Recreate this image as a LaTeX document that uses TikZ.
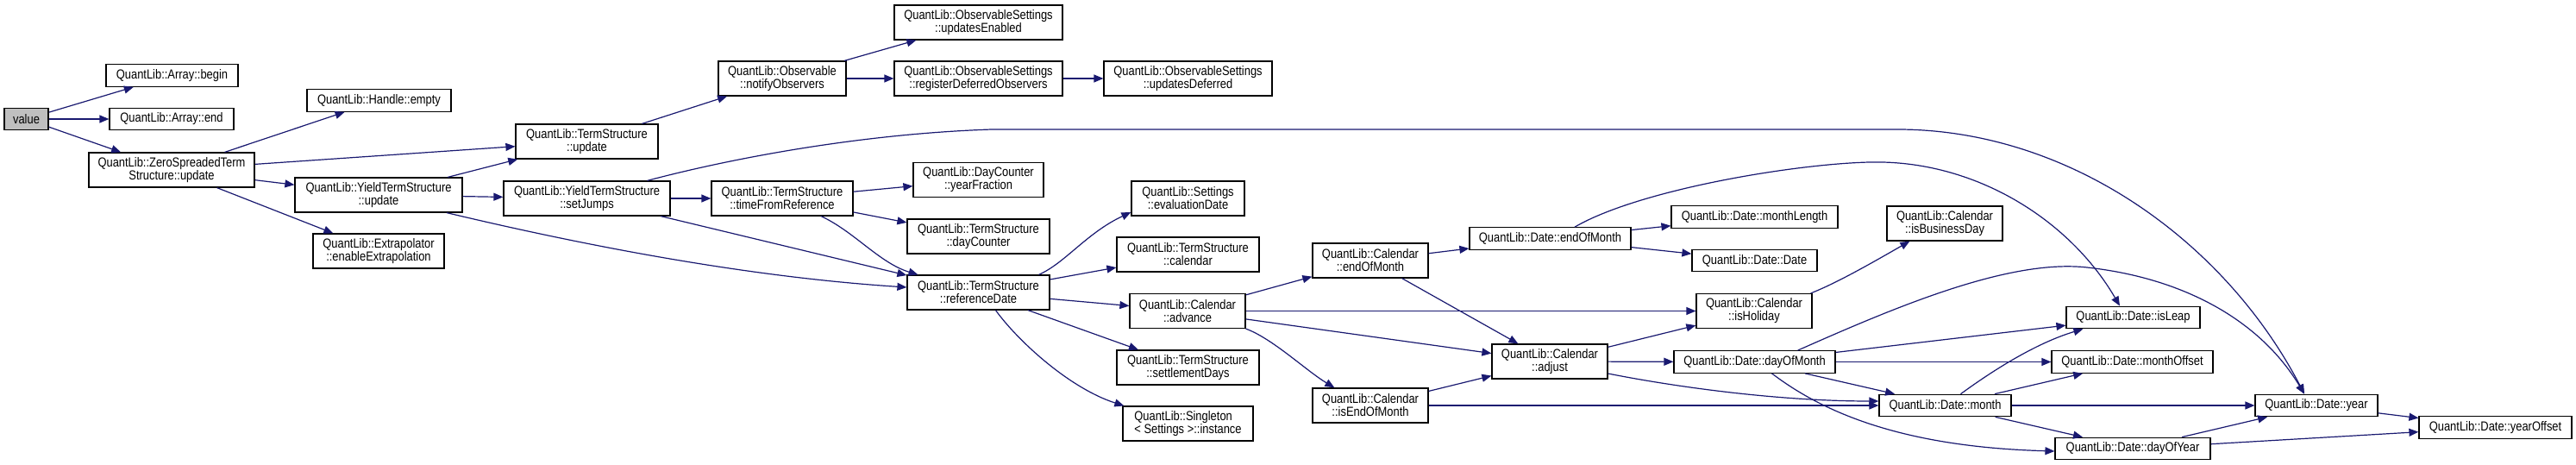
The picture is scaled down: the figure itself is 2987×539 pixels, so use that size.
\documentclass[tikz,border=0pt]{standalone}
\usepackage{fontspec}
\setmainfont{Liberation Sans}[FakeStretch=0.85]
\usepackage{tikz}
\usetikzlibrary{positioning,arrows.meta,calc}
\usepackage{xcolor}
\definecolor{edgeblue}{HTML}{191970}
\definecolor{rootgray}{HTML}{BFBFBF}

\begin{document}
\begin{tikzpicture}[x=0.5pt, y=-0.5pt, >={Triangle[length=5.5pt, width=4.5pt]},
    fn/.style={draw=black, line width=0.6pt, inner sep=0pt, align=center,
      font=\fontsize{7.6}{7.5}\selectfont},
    fn1/.style={fn, minimum height=12.75pt},
    fn2/.style={fn, minimum height=20pt},
    call/.style={->, edgeblue, line width=0.6pt}]
    \useasboundingbox (0,0) rectangle (2987,539);

    % Caller and its direct callees
    \node[fn1, fill=rootgray, minimum width=25.5pt] (value) at (30.5,138) {value};
    \node[fn1, minimum width=76.5pt] (abegin) at (199.5,87.5) {QuantLib::Array::begin};
    \node[fn1, minimum width=72pt] (aend) at (199,138) {QuantLib::Array::end};
    \node[fn2, minimum width=96pt] (zsupd) at (199,197) {QuantLib::ZeroSpreadedTerm\\Structure::update};

    % Update chain
    \node[fn1, minimum width=83.5pt] (hempty) at (439.5,116.5) {QuantLib::Handle::empty};
    \node[fn2, minimum width=97pt] (ytsupd) at (439,226) {QuantLib::YieldTermStructure\\::update};
    \node[fn2, minimum width=76pt] (extrap) at (439,291) {QuantLib::Extrapolator\\::enableExtrapolation};
    \node[fn2, minimum width=82.5pt] (tsupd) at (680.5,164) {QuantLib::TermStructure\\::update};
    \node[fn2, minimum width=96.5pt] (setjumps) at (680.5,230) {QuantLib::YieldTermStructure\\::setJumps};
    \node[fn2, minimum width=74pt] (notify) at (907,91) {QuantLib::Observable\\::notifyObservers};
    \node[fn2, minimum width=82pt] (tfr) at (907,230) {QuantLib::TermStructure\\::timeFromReference};
    \node[fn2, minimum width=97.5pt] (upden) at (1134.5,26) {QuantLib::ObservableSettings\\::updatesEnabled};
    \node[fn2, minimum width=97.5pt] (regdef) at (1134.5,91) {QuantLib::ObservableSettings\\::registerDeferredObservers};
    \node[fn2, minimum width=97.5pt] (upddef) at (1377.5,91) {QuantLib::ObservableSettings\\::updatesDeferred};
    \node[fn2, minimum width=75.5pt] (yearfrac) at (1134.5,208.5) {QuantLib::DayCounter\\::yearFraction};
    \node[fn2, minimum width=82.5pt] (daycount) at (1134.5,274) {QuantLib::TermStructure\\::dayCounter};
    \node[fn2, minimum width=82.5pt] (refdate) at (1134.5,339) {QuantLib::TermStructure\\::referenceDate};

    % Reference date and calendar
    \node[fn2, minimum width=65.5pt] (evaldate) at (1377.5,230) {QuantLib::Settings\\::evaluationDate};
    \node[fn2, minimum width=82.5pt] (tscal) at (1377.5,295) {QuantLib::TermStructure\\::calendar};
    \node[fn2, minimum width=67pt] (advance) at (1377,360.5) {QuantLib::Calendar\\::advance};
    \node[fn2, minimum width=82.5pt] (settle) at (1377.5,426) {QuantLib::TermStructure\\::settlementDays};
    \node[fn2, minimum width=75.5pt, align=left] (single) at (1377.5,491) {QuantLib::Singleton\\< Settings >::instance};
    \node[fn2, minimum width=67pt] (caleom) at (1589,302) {QuantLib::Calendar\\::endOfMonth};
    \node[fn2, minimum width=67pt] (caliseom) at (1589,470) {QuantLib::Calendar\\::isEndOfMonth};
    \node[fn1, minimum width=93.5pt] (deom) at (1797.5,276.5) {QuantLib::Date::endOfMonth};
    \node[fn2, minimum width=67pt] (adjust) at (1797,419) {QuantLib::Calendar\\::adjust};
    \node[fn1, minimum width=96.5pt] (mlen) at (2034.5,251.5) {QuantLib::Date::monthLength};
    \node[fn1, minimum width=72.5pt] (ddate) at (2034.5,302) {QuantLib::Date::Date};
    \node[fn2, minimum width=67pt] (isholiday) at (2034,360.5) {QuantLib::Calendar\\::isHoliday};
    \node[fn1, minimum width=93.5pt] (dom) at (2034.5,419.5) {QuantLib::Date::dayOfMonth};
    \node[fn2, minimum width=67pt] (isbday) at (2255,259) {QuantLib::Calendar\\::isBusinessDay};

    % Date helpers
    \node[fn1, minimum width=76.5pt] (month) at (2255.5,470) {QuantLib::Date::month};
    \node[fn1, minimum width=77.5pt] (isleap) at (2473.5,368) {QuantLib::Date::isLeap};
    \node[fn1, minimum width=93.5pt] (moff) at (2472.5,419.5) {QuantLib::Date::monthOffset};
    \node[fn1, minimum width=90pt] (doy) at (2473,520) {QuantLib::Date::dayOfYear};
    \node[fn1, minimum width=71pt] (year) at (2686,470) {QuantLib::Date::year};
    \node[fn1, minimum width=88.5pt] (yoff) at (2893.5,495.5) {QuantLib::Date::yearOffset};

    % Calls out of value and the update functions
    \draw[call] (value) -- (abegin);
    \draw[call] (value) -- (aend);
    \draw[call] (value) -- (zsupd);
    \draw[call] (zsupd) -- (hempty);
    \draw[call] (zsupd) -- (tsupd);
    \draw[call] (zsupd) -- (ytsupd);
    \draw[call] (zsupd) -- (extrap);
    \draw[call] (ytsupd) -- (tsupd);
    \draw[call] (ytsupd) -- (setjumps);
    \draw[call] ($(ytsupd.south)+(79,0)$) .. controls (650,278) and (850,320) .. ($(refdate.west)+(0,-6)$);
    \draw[call] (tsupd) -- (notify);
    \draw[call] (notify) -- (upden);
    \draw[call] (notify) -- (regdef);
    \draw[call] (regdef) -- (upddef);
    \draw[call] (setjumps) -- (tfr);
    \draw[call] (setjumps) -- (refdate);
    \draw[call] ($(setjumps.north)+(70,0)$) .. controls (850,183) and (1000,155) .. (1150,150)
        -- (2200,150) .. controls (2400,150) and (2580,280) .. ($(year.north)+(-14,0)$);
    \draw[call] (tfr) -- (yearfrac);
    \draw[call] (tfr) -- (daycount);
    \draw[call] ($(tfr.south)+(45,0)$) .. controls (990,268) and (1020,305) .. ($(refdate.north)+(-70,0)$);

    % Calls out of referenceDate
    \draw[call] ($(refdate.north)+(70,0)$) .. controls (1235,305) and (1260,270) .. ($(evaldate.west)+(0,16)$);
    \draw[call] (refdate) -- (tscal);
    \draw[call] (refdate) -- (advance);
    \draw[call] (refdate) -- (settle);
    \draw[call] ($(refdate.south)+(20,0)$) .. controls (1180,395) and (1240,450) .. ($(single.north west)+(2,0)$);

    % Calendar calls
    \draw[call] (advance) -- (caleom);
    \draw[call] (advance) -- (isholiday);
    \draw[call] (advance) -- (adjust);
    \draw[call] (advance.south east) .. controls (1475,392) and (1515,430) .. ($(caliseom.north west)+(26,0)$);
    \draw[call] (caleom) -- (deom);
    \draw[call] (caleom) -- (adjust);
    \draw[call] (caliseom) -- (adjust);
    \draw[call] (caliseom) -- (month);
    \draw[call] (deom) -- (mlen);
    \draw[call] (deom) -- (ddate);
    \draw[call] ($(deom.north)+(28.5,0)$) .. controls (1900,220) and (2080,190) .. (2168,188)
        .. controls (2290,185) and (2400,255) .. ($(isleap.north)+(-15.5,0)$);
    \draw[call] ($(isholiday.north east)+(-2,0)$) .. controls (2130,328) and (2170,305) .. ($(isbday.south west)+(27,0)$);
    \draw[call] (adjust) -- (isholiday);
    \draw[call] (adjust) -- (dom);
    \draw[call] ($(adjust.east)+(0,14)$) .. controls (1940,448) and (2060,465) .. ($(month.west)+(0,-5)$);

    % Date calls
    \draw[call] ($(dom.north)+(50,0)$) .. controls (2200,355) and (2330,300) .. (2420,310)
        .. controls (2530,322) and (2620,370) .. ($(year.north)+(-14,0)$);
    \draw[call] (dom) -- (isleap);
    \draw[call] (dom) -- (moff);
    \draw[call] (dom) -- (month);
    \draw[call] ($(dom.south)+(20,0)$) .. controls (2110,475) and (2200,518) .. ($(doy.west)+(0,3)$);
    \draw[call] ($(month.north)+(18,0)$) .. controls (2310,430) and (2360,398) .. ($(isleap.south west)+(20,0)$);
    \draw[call] (month) -- (moff);
    \draw[call] (month) -- (year);
    \draw[call] (month) -- (doy);
    \draw[call] (doy) -- (year);
    \draw[call] (doy) -- (yoff);
    \draw[call] (year) -- (yoff);
\end{tikzpicture}
\end{document}
